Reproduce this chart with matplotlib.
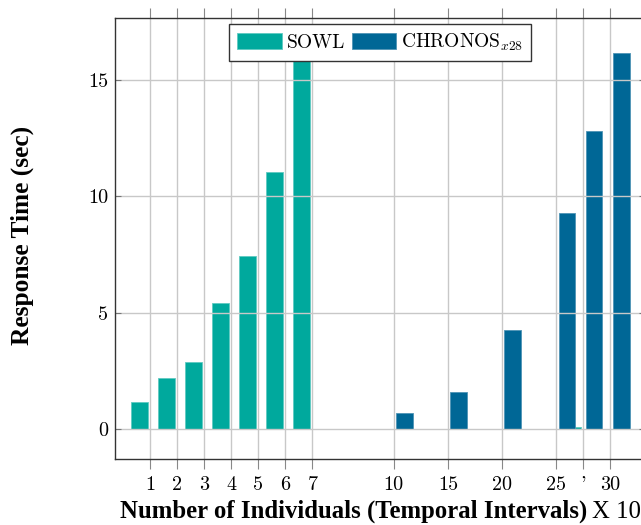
import matplotlib
matplotlib.use('Agg')
import matplotlib.pyplot as plt

# category ticks (pgfplots-style symbolic coords, spaced unevenly)
tick_pos = [1, 2, 3, 4, 5, 6, 7, 10, 12, 14, 16, 17, 18]
tick_labels = ['1', '2', '3', '4', '5', '6', '7', '10', '15', '20', '25', "'", '30']

# response times (sec)
sowl = [1.15, 2.19, 2.89, 5.40, 7.45, 11.04, 16.6, 0.03, 0.03, 0.03, 0.03, 0.08, 0.03]
chronos = [0, 0, 0, 0, 0, 0, 0, 0.70, 1.60, 4.25, 9.28, 12.81, 16.16]

sowl_color = '#00a99d'
chronos_color = '#006796'
bar_w = 0.62
offset = 0.4

plt.rcParams['mathtext.fontset'] = 'cm'

fig = plt.figure(figsize=(6.41, 5.25), dpi=100)
ax = fig.add_axes([115.3 / 641, 66 / 525, (645 - 115.3) / 641, (459 - 17.6) / 525])

sowl_x = [p - offset for p in tick_pos]
chronos_x = [p + offset for p in tick_pos]
ax.bar(sowl_x, sowl, width=bar_w, color=sowl_color, edgecolor='#5fcac2',
       linewidth=0.6, label='SOWL', zorder=2)
ax.bar(chronos_x[7:], chronos[7:], width=bar_w, color=chronos_color, edgecolor='#4f93b5',
       linewidth=0.6, label='CHRONOS$_{x28}$', zorder=2)

ax.set_xlim(-0.28, 19.28)
ax.set_ylim(-1.28, 17.68)
ax.set_xticks(tick_pos)
ax.set_xticklabels(tick_labels, fontfamily='cmr10', fontsize=14.5)
ax.set_yticks([0, 5, 10, 15])
ax.set_yticklabels(['0', '5', '10', '15'], fontfamily='cmr10', fontsize=14.5)

# grid drawn over the bars, like "axis on top"
ax.grid(True, color='#c8c8c8', linewidth=1.0, zorder=3)
ax.set_axisbelow(False)

ax.tick_params(axis='x', which='both', direction='out', length=7.5, width=0.8,
               color='#888888', top=True, bottom=True, pad=5)
ax.tick_params(axis='y', which='both', direction='in', length=4.5, width=0.8,
               color='#777777', left=True, right=True, pad=5)
for s in ax.spines.values():
    s.set_color('#333333')
    s.set_linewidth(1.0)
    s.set_zorder(4)

leg = ax.legend(loc='upper center', bbox_to_anchor=(0.5, 0.986), ncol=2,
                prop={'family': 'cmr10', 'size': 14}, fancybox=False,
                framealpha=1, edgecolor='#333333', handlelength=2.3,
                handleheight=0.85, handletextpad=0.25, columnspacing=0.35,
                borderpad=0.4, borderaxespad=0)
leg.get_frame().set_linewidth(1.0)
leg.set_zorder(5)

fig.text(22 / 641, 1 - 235 / 525, 'Response Time (sec)', rotation=90,
         ha='center', va='center', fontfamily='Liberation Serif',
         fontweight='bold', fontsize=18.3)

# x label: bold part followed by a regular "X 10"
base_y = 1 - 518 / 525
xl = fig.text(120 / 641, base_y, 'Number of Individuals (Temporal Intervals)',
              ha='left', va='baseline', fontfamily='Liberation Serif',
              fontweight='bold', fontsize=17.8)
fig.canvas.draw()
bb = xl.get_window_extent(renderer=fig.canvas.get_renderer())
fig.text((bb.x1 + 5) / 641, base_y, 'X 10', ha='left', va='baseline',
         fontfamily='Liberation Serif', fontsize=17.8)

fig.savefig('out.png', dpi=100)
